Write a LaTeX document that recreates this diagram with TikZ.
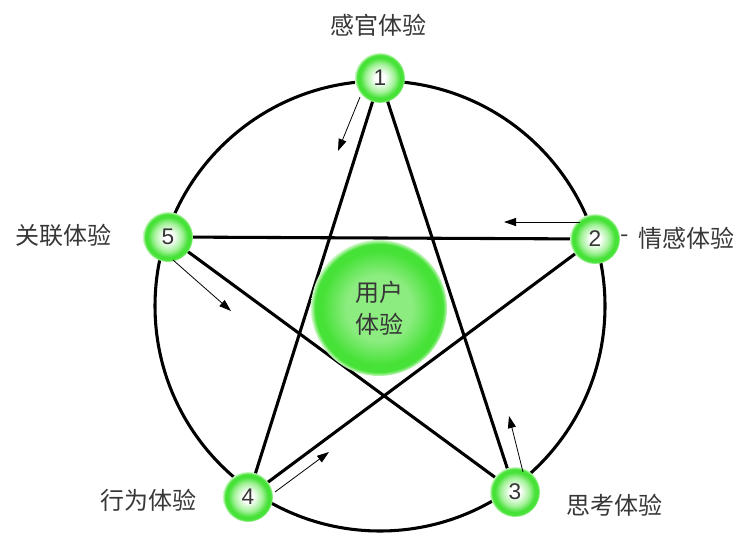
\documentclass[tikz,border=0pt]{standalone}
\usepackage{fontspec}
\newfontfamily\cjk{Noto Sans CJK SC}
\newfontfamily\digitfont{Liberation Sans}
\usetikzlibrary{arrows.meta,backgrounds}
\definecolor{ballgreen}{RGB}{70,226,55}
\definecolor{ballmid}{RGB}{165,242,155}
\definecolor{ballglow}{RGB}{205,247,196}
\definecolor{coremid}{RGB}{140,236,128}
\definecolor{txtgray}{RGB}{55,55,55}
\pgfdeclareradialshading{ballshade}{\pgfpoint{0bp}{0bp}}{color(0bp)=(white); color(5bp)=(white); color(14bp)=(ballmid); color(20bp)=(ballgreen); color(23bp)=(ballgreen); color(25bp)=(ballglow); color(50bp)=(ballglow)}
\pgfdeclareradialshading{coreshade}{\pgfpoint{0bp}{0bp}}{color(0bp)=(coremid); color(12bp)=(coremid); color(21bp)=(ballgreen); color(23.5bp)=(ballgreen); color(25bp)=(ballglow); color(50bp)=(ballglow)}
\begin{document}
\begin{tikzpicture}[x=0.75pt,y=-0.75pt,
  ball/.style={circle, minimum size=37.5pt, inner sep=0pt, shading=ballshade, font=\digitfont\fontsize{17}{17}\selectfont, text=txtgray},
  coreball/.style={circle, minimum size=102pt, inner sep=0pt, shading=coreshade, align=center, font=\cjk\fontsize{18}{24}\selectfont, text=txtgray},
  lbl/.style={font=\cjk\fontsize{18}{24}\selectfont, text=txtgray, inner sep=0pt},
  star/.style={line width=2.3pt, black},
  flow/.style={line width=0.6pt, black, -{Triangle[length=9pt,width=6pt]}}]
\useasboundingbox (0,0) rectangle (741,535);

\node[ball] (n1) at (380,78) {1};
\node[ball] (n2) at (595,239) {2};
\node[ball] (n3) at (515,492) {3};
\node[ball] (n4) at (248,497) {4};
\node[ball] (n5) at (168,237) {5};
\node[coreball] (core) at (379,308) {用户\\体验};

\node[lbl] (l1) at (378,25) {感官体验};
\node[lbl] (dash2) at (625,239) {-};
\node[lbl] (l2) at (686,238) {情感体验};
\node[lbl] (l3) at (614,505) {思考体验};
\node[lbl] (l4) at (148,500) {行为体验};
\node[lbl] (l5) at (63,235) {关联体验};

\begin{pgfonlayer}{background}
\draw[star] (380,306) circle[radius=168.75pt];
\draw[star] (n1.center) -- (n3.center);
\draw[star] (n1.center) -- (n4.center);
\draw[star] (n5.center) -- (n2.center);
\draw[star] (n5.center) -- (n3.center);
\draw[star] (n4.center) -- (n2.center);
\end{pgfonlayer}

\coordinate (a1s) at (360,97);
\coordinate (a1e) at (338,151);
\coordinate (a2s) at (580,222);
\coordinate (a2e) at (504,222);
\coordinate (a3s) at (523,472);
\coordinate (a3e) at (509,416);
\coordinate (a4s) at (275,492);
\coordinate (a4e) at (329,452);
\coordinate (a5s) at (173,260);
\coordinate (a5e) at (231,311);
\draw[flow] (a1s) -- (a1e);
\draw[flow] (a2s) -- (a2e);
\draw[flow] (a3s) -- (a3e);
\draw[flow] (a4s) -- (a4e);
\draw[flow] (a5s) -- (a5e);
\end{tikzpicture}
\end{document}
